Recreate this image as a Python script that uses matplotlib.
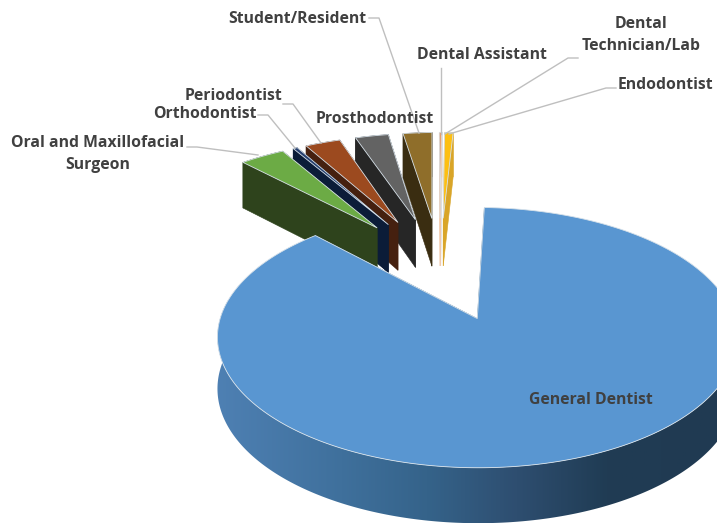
"""Exploded 3D-style pie of respondents by dental profession."""

import matplotlib

matplotlib.use("Agg")
import matplotlib.pyplot as plt
import numpy as np
from matplotlib.colors import LinearSegmentedColormap
from matplotlib.patches import Polygon

# clockwise, starting from the big slice
professions = [
    "General Dentist",
    "Oral and Maxillofacial Surgeon",
    "Orthodontist",
    "Periodontist",
    "Prosthodontist",
    "Student/Resident",
    "Dental Assistant",
    "Dental Technician/Lab",
    "Endodontist",
]
shares = [87.25, 3.6, 0.35, 2.85, 2.7, 2.35, 0.15, 0.05, 0.7]

top_colors = ["#5996d1", "#6cab45", "#263f6e", "#9c4a1f", "#636363", "#8f6e2a", "#ed7d31", "#d0d0d0", "#fdbf12"]
wall_colors = ["#35638a", "#2e431c", "#0b1c38", "#45200f", "#262626", "#3a2d11", "#f3c8a8", "#e0e0e0", "#d9a528"]

# projection of the pie plane onto pixels
APEX_X, APEX_Y = 471, 318
SCALE_X, SCALE_Y = 257, 127.2
PERSPECTIVE = 0.146
CENTRE = (-0.14, 0.425)
EXPLODE = 0.46
START_ANGLE = 2.0
DEPTH = 51
SMALL_RADIUS = 0.97
SMALL_SHIFT = 0.012

blue_wall = LinearSegmentedColormap.from_list(
    "blue_wall",
    [(0.0, "#4e80b3"), (0.25, "#3f709c"), (0.42, "#35638a"), (0.6, "#2e4e70"), (0.78, "#203c54"), (1.0, "#203a52")],
)


def project(x, y):
    shrink = 1 / (1 + PERSPECTIVE * y)
    return APEX_X + SCALE_X * x * shrink, APEX_Y - SCALE_Y * y * shrink


def drop(x, y):
    return DEPTH / (1 + 0.08 * y)


def screen(points, lowered=False):
    out = []
    for x, y in points:
        sx, sy = project(x, y)
        out.append((sx, sy + drop(x, y) if lowered else sy))
    return out


def wall(ax, points, color, zorder):
    top = screen(points)
    bottom = screen(points, lowered=True)
    ax.add_patch(Polygon(top + bottom[::-1], closed=True, facecolor=color, edgecolor=color, linewidth=0.4, zorder=zorder))


fig = plt.figure(figsize=(7.17, 5.23), dpi=100)
ax = fig.add_axes([0, 0, 1, 1])

edges = START_ANGLE + np.cumsum([0] + shares) / sum(shares) * 360
order = []
for i in range(len(shares)):
    mid = np.radians((edges[i] + edges[i + 1]) / 2)
    shift = 0 if i == 0 else SMALL_SHIFT
    apex = (CENTRE[0] + shift + EXPLODE * np.sin(mid), CENTRE[1] + EXPLODE * np.cos(mid))
    order.append((apex[1], i, apex))
order.sort(key=lambda item: -item[0])

for rank, (_, i, apex) in enumerate(order):
    base = 10 + rank * 10
    radius = 1.0 if i == 0 else SMALL_RADIUS
    angles = np.radians(np.linspace(edges[i], edges[i + 1], max(3, int(edges[i + 1] - edges[i]) * 2)))
    arc = [(apex[0] + radius * np.sin(a), apex[1] + radius * np.cos(a)) for a in angles]

    # radial walls first, then the rim, then the top face
    wall(ax, [apex, arc[0]], wall_colors[i], base)
    wall(ax, [apex, arc[-1]], wall_colors[i], base + 1)
    if i == 0:
        rim = Polygon(screen(arc) + screen(arc, lowered=True)[::-1], closed=True, transform=ax.transData, facecolor="none", edgecolor="none")
        ax.add_patch(rim)
        image = ax.imshow(
            np.linspace(0, 1, 256).reshape(1, -1),
            cmap=blue_wall,
            extent=(217, 717, 523, 300),
            aspect="auto",
            zorder=base + 2,
        )
        image.set_clip_path(rim)
    else:
        wall(ax, arc, wall_colors[i], base + 2)
    ax.add_patch(
        Polygon(screen([apex] + arc), closed=True, facecolor=top_colors[i], edgecolor="#d8e2ea", linewidth=0.6, zorder=base + 3)
    )

ax.set_xlim(0, 717)
ax.set_ylim(523, 0)
ax.axis("off")

leaders = [
    ([187, 197, 258], [147, 147, 155]),
    ([258, 268, 295], [115, 115, 148]),
    ([283, 293, 321], [104, 104, 143]),
    ([369, 379, 419], [18, 18, 133]),
    ([441, 441], [68, 134]),
    ([578, 568, 445], [58, 58, 134]),
    ([616, 606, 449], [88, 88, 134]),
]
for xs, ys in leaders:
    ax.plot(xs, ys, color="#bfbfbf", linewidth=1.0, zorder=200)

label_style = {"family": ["Open Sans", "DejaVu Sans"], "fontsize": 11.3, "fontweight": "bold", "color": "#404040", "zorder": 300}
ax.text(591, 400, professions[0], ha="center", va="center", **label_style)
ax.text(98, 154, "Oral and Maxillofacial\nSurgeon", ha="center", va="center", linespacing=1.45, **label_style)
ax.text(205, 114, professions[2], ha="center", va="center", **label_style)
ax.text(234, 96, professions[3], ha="center", va="center", **label_style)
ax.text(375, 119, professions[4], ha="center", va="center", **label_style)
ax.text(297, 19, professions[5], ha="center", va="center", **label_style)
ax.text(482, 55, professions[6], ha="center", va="center", **label_style)
ax.text(641, 35, "Dental\nTechnician/Lab", ha="center", va="center", linespacing=1.45, **label_style)
ax.text(665, 85, professions[8], ha="center", va="center", **label_style)

fig.savefig("out.png", dpi=100, facecolor="white")
